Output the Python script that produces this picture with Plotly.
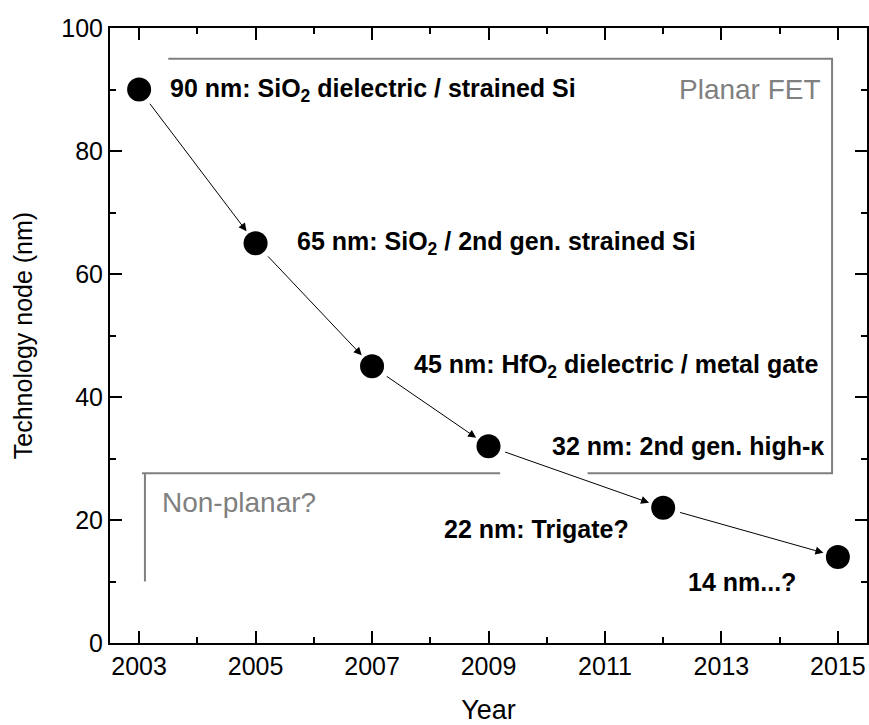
import plotly.graph_objects as go

# Technology nodes by year of introduction
years = [2003, 2005, 2007, 2009, 2012, 2015]
nodes = [90, 65, 45, 32, 22, 14]

labels = [
    "90 nm: SiO<sub>2</sub> dielectric / strained Si",
    "65 nm: SiO<sub>2</sub> / 2nd gen. strained Si",
    "45 nm: HfO<sub>2</sub> dielectric / metal gate",
    "32 nm: 2nd gen. high-κ",
    "22 nm: Trigate?",
    "14 nm...?",
]
label_x = [2003.5, 2005.68, 2007.68, 2010.05, 2008.2, 2012.4]
label_y = [90, 65, 45, 32, 18.5, 10]

# Bracket outlining the planar-FET era
planar_x = [2003.5, 2014.9, 2014.9, 2010.7]
planar_y = [95, 95, 27.6, 27.6]
# Bracket for the non-planar era
nonplanar_top_x = [2003.05, 2009.2]
nonplanar_top_y = [27.6, 27.6]
nonplanar_side_x = [2003.1, 2003.1]
nonplanar_side_y = [27.6, 10]

GRAY = "#808080"
FONT = "Liberation Sans, Arial, Helvetica, sans-serif"

fig = go.Figure()

fig.add_trace(go.Scatter(x=planar_x, y=planar_y, mode="lines",
                         line=dict(color=GRAY, width=2), hoverinfo="skip"))
fig.add_trace(go.Scatter(x=nonplanar_top_x, y=nonplanar_top_y, mode="lines",
                         line=dict(color=GRAY, width=2), hoverinfo="skip"))
fig.add_trace(go.Scatter(x=nonplanar_side_x, y=nonplanar_side_y, mode="lines",
                         line=dict(color=GRAY, width=2), hoverinfo="skip"))

fig.add_trace(go.Scatter(x=years, y=nodes, mode="markers",
                         marker=dict(size=24, color="black"), hoverinfo="x+y"))

annotations = []
# Arrows linking successive nodes
for i in range(len(years) - 1):
    annotations.append(dict(
        x=years[i + 1], y=nodes[i + 1], ax=years[i], ay=nodes[i],
        xref="x", yref="y", axref="x", ayref="y",
        showarrow=True, arrowhead=2, arrowsize=1.6, arrowwidth=1,
        arrowcolor="black", standoff=15, startstandoff=16, text="",
    ))

for t, lx, ly in zip(labels, label_x, label_y):
    annotations.append(dict(
        x=lx, y=ly, xref="x", yref="y", text="<b>" + t + "</b>",
        showarrow=False, xanchor="left", yanchor="middle",
        font=dict(family=FONT, size=25, color="black"),
    ))

annotations.append(dict(x=2014.75, y=90, xref="x", yref="y", text="Planar FET",
                        showarrow=False, xanchor="right", yanchor="middle",
                        font=dict(family=FONT, size=28, color=GRAY)))
annotations.append(dict(x=2003.35, y=22.8, xref="x", yref="y", text="Non-planar?",
                        showarrow=False, xanchor="left", yanchor="middle",
                        font=dict(family=FONT, size=28, color=GRAY)))

axis_common = dict(
    showline=True, linecolor="black", linewidth=2, mirror="ticks",
    ticks="inside", ticklen=12, tickwidth=2, tickcolor="black",
    showgrid=False, zeroline=False, automargin=False,
    tickfont=dict(family=FONT, size=25, color="black"),
)

fig.update_layout(
    width=869, height=725,
    margin=dict(l=110, r=2, t=28, b=82),
    paper_bgcolor="white", plot_bgcolor="white",
    showlegend=False,
    annotations=annotations,
    xaxis=dict(range=[2002.5, 2015.5], tickvals=[2003, 2005, 2007, 2009, 2011, 2013, 2015],
               minor=dict(dtick=1, tick0=2003, ticks="inside", ticklen=6, tickwidth=2,
                          tickcolor="black"),
               title=dict(text="Year", font=dict(family=FONT, size=27, color="black"),
                          standoff=28),
               **axis_common),
    yaxis=dict(range=[0, 100], tickvals=[0, 20, 40, 60, 80, 100],
               minor=dict(dtick=10, tick0=0, ticks="inside", ticklen=6, tickwidth=2,
                          tickcolor="black"),
               title=dict(text="Technology node (nm)",
                          font=dict(family=FONT, size=25, color="black"), standoff=22),
               **axis_common),
)

fig.write_html("out.html")
